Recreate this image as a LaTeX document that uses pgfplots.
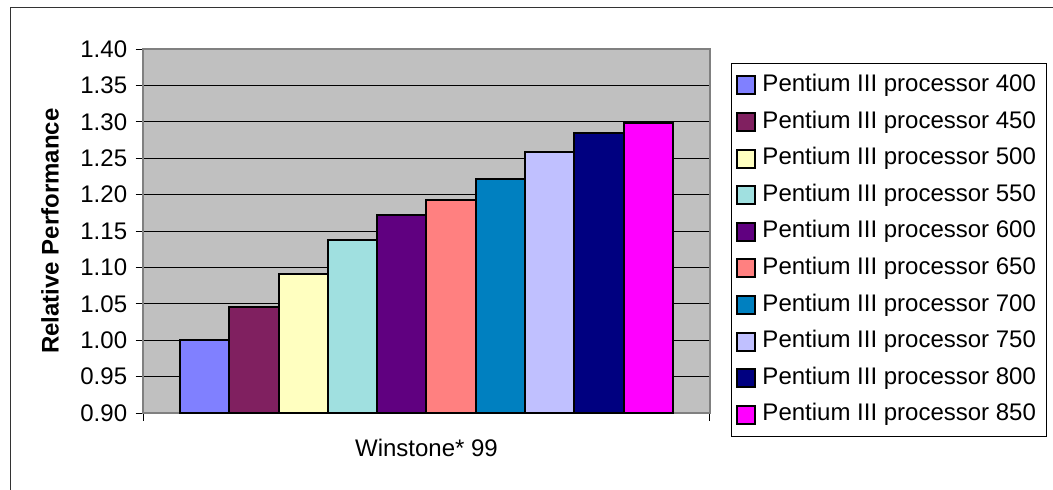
\documentclass[border=0pt]{standalone}
\usepackage{fontspec}
\setmainfont{Liberation Sans}
\usepackage{pgfplots}
\pgfplotsset{compat=1.18}

\definecolor{pa}{HTML}{8080FF}
\definecolor{pb}{HTML}{802060}
\definecolor{pc}{HTML}{FFFFC0}
\definecolor{pd}{HTML}{A0E0E0}
\definecolor{pe}{HTML}{600080}
\definecolor{pf}{HTML}{FF8080}
\definecolor{pg}{HTML}{0080C0}
\definecolor{ph}{HTML}{C0C0FF}
\definecolor{pi}{HTML}{000080}
\definecolor{pj}{HTML}{FF00FF}
\definecolor{plotbg}{HTML}{C0C0C0}
\definecolor{frame}{HTML}{808080}

\begin{document}
\fontsize{12}{14}\selectfont
\begin{tikzpicture}
\useasboundingbox (0,0) rectangle (526.5pt,244.5pt);
\draw[line width=0.5pt, black!80] (5pt,-10pt) -- (5pt,241pt) -- (540pt,241pt);
\begin{axis}[
    at={(71.5pt,38pt)}, anchor=south west,
    scale only axis, width=283.5pt, height=182pt,
    ybar=0pt, bar width=24.65pt,
    xmin=-0.5, xmax=0.5, ymin=0.9, ymax=1.4,
    xtick={-0.5,0.5}, xticklabels={},
    ytick={0.9,0.95,1.0,1.05,1.1,1.15,1.2,1.25,1.3,1.35,1.4},
    yticklabel style={/pgf/number format/.cd, fixed, fixed zerofill, precision=2,
        assume math mode=true},
    tick pos=left,
    tick align=outside, major tick length=3.75pt,
    tick style={black, line width=0.5pt},
    ymajorgrids, major grid style={black, line width=0.5pt},
    axis line style={frame, line width=1pt},
    axis background/.style={fill=plotbg},
    xlabel={Winstone* 99},
    xlabel style={at={(axis description cs:0.5,-0.096)}, anchor=center},
    ylabel={\bfseries Relative Performance},
    ylabel style={at={(axis description cs:-0.164,0.5)}, anchor=center},
    legend style={at={(1,1)}, anchor=north west, xshift=10.5pt, yshift=-7pt,
        draw=black, line width=0.5pt, inner xsep=2.5pt, inner ysep=1.8pt,
        nodes={inner xsep=3pt, inner ysep=3.15pt, text height=9pt, text depth=3pt},
        legend cell align=left},
    every axis plot post/.append style={
        legend image code/.code={\draw[##1, line width=1pt] (0pt,-4.5pt) rectangle (9pt,4.5pt);}},
]
\addplot[fill=pa, draw=black, line width=1pt] coordinates {(0,1.000)};
\addplot[fill=pb, draw=black, line width=1pt] coordinates {(0,1.046)};
\addplot[fill=pc, draw=black, line width=1pt] coordinates {(0,1.091)};
\addplot[fill=pd, draw=black, line width=1pt] coordinates {(0,1.137)};
\addplot[fill=pe, draw=black, line width=1pt] coordinates {(0,1.172)};
\addplot[fill=pf, draw=black, line width=1pt] coordinates {(0,1.193)};
\addplot[fill=pg, draw=black, line width=1pt] coordinates {(0,1.222)};
\addplot[fill=ph, draw=black, line width=1pt] coordinates {(0,1.258)};
\addplot[fill=pi, draw=black, line width=1pt] coordinates {(0,1.284)};
\addplot[fill=pj, draw=black, line width=1pt] coordinates {(0,1.299)};
\legend{Pentium III processor 400, Pentium III processor 450,
    Pentium III processor 500, Pentium III processor 550,
    Pentium III processor 600, Pentium III processor 650,
    Pentium III processor 700, Pentium III processor 750,
    Pentium III processor 800, Pentium III processor 850}
\end{axis}
\end{tikzpicture}
\end{document}
